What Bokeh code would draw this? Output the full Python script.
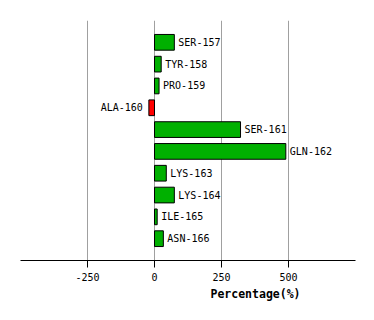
from bokeh.plotting import figure
from bokeh.models import ColumnDataSource, Range1d, FixedTicker, Title
from bokeh.core.properties import value
from bokeh.embed import file_html
from bokeh.resources import INLINE

residues = ["SER-157", "TYR-158", "PRO-159", "ALA-160", "SER-161",
            "GLN-162", "LYS-163", "LYS-164", "ILE-165", "ASN-166"]
percentages = [74, 25, 17, -21, 321, 490, 44, 74, 10, 33]
tick_values = [-250, 0, 250, 500]
tick_labels = ["-250", "0", "250", "500"]
x_title = "Percentage(%)"

ypos = list(range(1, len(residues) + 1))
colors = ["#00b000" if v >= 0 else "#ff0000" for v in percentages]
aligns = ["left" if v >= 0 else "right" for v in percentages]
offsets = [4 if v >= 0 else -6 for v in percentages]

src = ColumnDataSource(dict(y=ypos, v=percentages, name=residues, color=colors,
                            align=aligns, off=offsets))

p = figure(width=374, height=320, output_backend="svg", toolbar_location=None,
           x_range=Range1d(-500, 750), y_range=Range1d(11, 0),
           min_border_left=20, min_border_right=19, min_border_top=20,
           min_border_bottom=60)
p.outline_line_color = None
p.yaxis.visible = False
p.ygrid.visible = False
p.xgrid.grid_line_color = "#a0a0a0"
p.xgrid.grid_line_width = 1
p.xaxis.ticker = FixedTicker(ticks=tick_values)
p.xaxis.major_label_overrides = {t: l for t, l in zip(tick_values, tick_labels)}
p.xaxis.minor_tick_line_color = None
p.xaxis.major_tick_in = 0
p.xaxis.major_tick_out = 7
p.xaxis.major_tick_line_color = "black"
p.xaxis.axis_line_color = "black"
p.xaxis.major_label_text_font = "DejaVu Sans Mono"
p.xaxis.major_label_text_font_size = "10px"
p.xaxis.major_label_text_color = "black"
p.xaxis.major_label_standoff = 5

p.hbar(y="y", left=0, right="v", height=0.72, fill_color="color",
       line_color="black", line_width=1, source=src)
p.text(x="v", y="y", text="name", text_align="align", x_offset="off",
       text_baseline="middle", text_font=value("DejaVu Sans Mono"),
       text_font_size="10px", text_color="black", source=src)

p.add_layout(Title(text=x_title, align="left", offset=190, standoff=2,
                   text_font="DejaVu Sans Mono", text_font_size="11.5px",
                   text_font_style="bold", text_color="black"), "below")

open("out.html", "w").write(file_html(p, INLINE))
